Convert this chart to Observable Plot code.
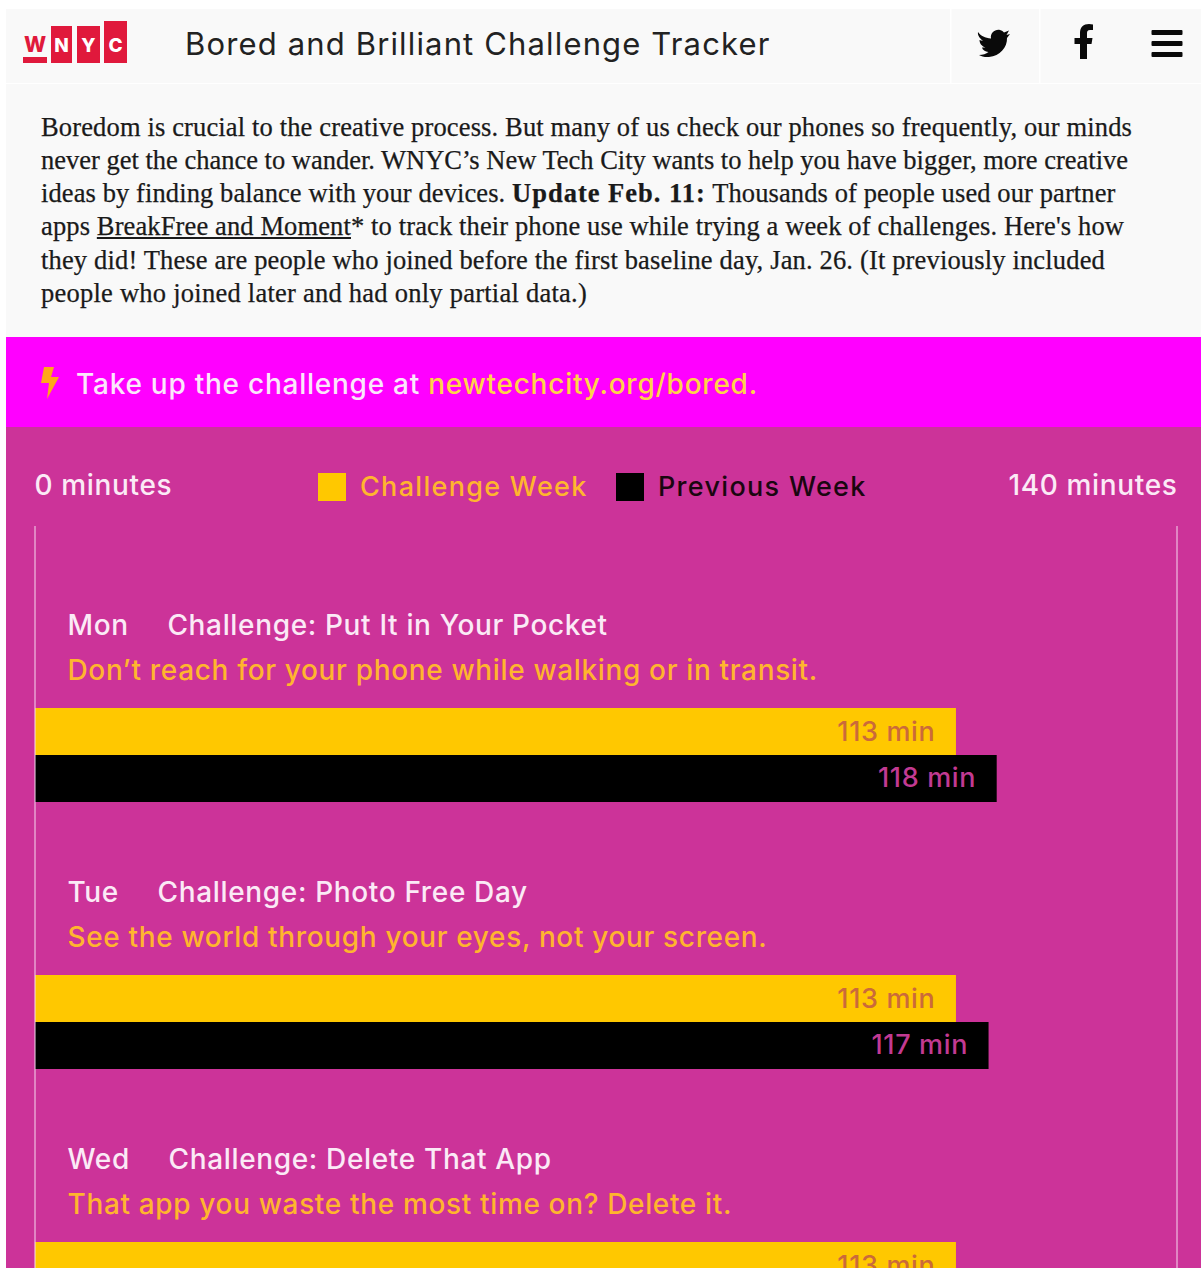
<!DOCTYPE html>
<html><head><meta charset="utf-8">
<script src="https://cdn.jsdelivr.net/npm/d3@7"></script>
<script src="https://cdn.jsdelivr.net/npm/@observablehq/plot@0.6"></script>
<style>
html,body{margin:0;padding:0;background:#fff;overflow:hidden;width:1201px;height:1268px}
#page{position:relative;width:1201px;height:1268px;overflow:hidden;font-family:Inter,sans-serif}
.abs{position:absolute;white-space:nowrap}
#header{left:6px;top:9px;width:1195px;height:74px;background:#f9f9f9}
#intro{left:6px;top:84px;width:1195px;height:253px;background:#f9f9f9}
#intro div{position:absolute;left:35px;white-space:nowrap;font-family:"Liberation Serif",serif;font-size:26.5px;color:#1a1a1a;line-height:33px;-webkit-text-stroke:.25px #1a1a1a}
#chart{position:absolute;left:6px;top:427px;width:1195px;height:841px;background:#cc3399}
#banner{left:6px;top:337px;width:1195px;height:90px;background:#ff00ff}
.leg{font-size:27px;font-weight:500;letter-spacing:1.3px}
</style></head><body>
<div id="page">
  <div class="abs" id="header"></div>
  <div class="abs" id="intro"></div>
  <div class="abs" id="banner"></div>
  <div id="chart"></div>

  <svg class="abs" style="left:0;top:0" width="1201" height="90" viewBox="0 0 1201 90">
    <rect x="950" y="9" width="1.5" height="74" fill="#fff"/>
    <rect x="1039" y="9" width="1.5" height="74" fill="#fff"/>
    <rect x="23" y="57" width="24" height="6" fill="#e0193c"/>
    <text x="35" y="52" text-anchor="middle" font-family="Inter" font-weight="800" font-size="21" fill="#e0193c">W</text>
    <rect x="51" y="26" width="21" height="37" fill="#e0193c"/>
    <text x="61.5" y="52" text-anchor="middle" font-family="Inter" font-weight="800" font-size="19" fill="#fff">N</text>
    <rect x="77" y="26" width="23" height="37" fill="#e0193c"/>
    <text x="88.5" y="52" text-anchor="middle" font-family="Inter" font-weight="800" font-size="19" fill="#fff">Y</text>
    <rect x="104" y="21" width="23" height="42" fill="#e0193c"/>
    <text x="115.5" y="52" text-anchor="middle" font-family="Inter" font-weight="800" font-size="19" fill="#fff">C</text>
    <path d="M978 32 C981 36 985 38 991 38.500 C990 33 995 29 1000 30 C1002 30.500 1003 31.500 1004 32.500 L1009 30.500 L1006.500 35 L1010 34 L1007 38 C1007.500 47 1000 56 989 57 C985 57.300 981 56.300 979 55 C983 55 986 54 988.500 52 C985 51.500 982.500 50 982 47.500 L985.500 47.500 C982 46.500 979.500 43.500 979.500 40 L983 41 C979 37.500 977.500 35 978 32 Z" fill="#0a0a0a"/>
    <path d="M1080 59 L1080 44 L1074.500 44 L1074.500 38 L1080 38 L1080 33 C1080 27 1083.500 24 1089 24 L1093 24.500 L1093 30 L1090 30 C1087.500 30 1087 31.300 1087 33.500 L1087 38 L1092.500 38 L1091.500 44 L1087 44 L1087 59 Z" fill="#0a0a0a"/>
    <rect x="1151.500" y="30" width="31" height="5" rx="1" fill="#0a0a0a"/>
    <rect x="1151.500" y="41" width="31" height="5" rx="1" fill="#0a0a0a"/>
    <rect x="1151.500" y="52" width="31" height="5" rx="1" fill="#0a0a0a"/>
  </svg>
  <div class="abs" style="left:185px;top:25px;font-size:31px;line-height:37px;color:#222;letter-spacing:1.15px">Bored and Brilliant Challenge Tracker</div>

  <svg class="abs" style="left:38px;top:365px" width="24" height="36" viewBox="0 0 24 36">
    <path d="M6 2 L16 2 L13 12 L21 12 L9 34 L11 18 L3 18 Z" fill="#ffa61a"/>
  </svg>
  <div class="abs" style="left:76px;top:366px;font-size:28px;font-weight:500;line-height:36px;color:#fbe6fb;letter-spacing:.75px">Take up the challenge at <span style="color:#ffd24a">newtechcity.org/bored.</span></div>

  <div class="abs" style="left:318px;top:473px;width:28px;height:28px;background:#ffc800"></div>
  <div class="abs leg" style="left:360px;top:470px;line-height:34px;color:#ffb52e">Challenge Week</div>
  <div class="abs" style="left:616px;top:473px;width:28px;height:28px;background:#000"></div>
  <div class="abs leg" style="left:658px;top:470px;line-height:34px;color:#1a0610">Previous Week</div>
</div>
<script>
const days = ["Mon", "Tue", "Wed"];
const challengeNames = ["Put It in Your Pocket", "Photo Free Day", "Delete That App"];
const challengeNotes = [
  "Don\u2019t reach for your phone while walking or in transit.",
  "See the world through your eyes, not your screen.",
  "That app you waste the most time on? Delete it."
];
const challengeWeek = [113, 113, 113];
const previousWeek = [118, 117];
const introLines = [
  "Boredom is crucial to the creative process. But many of us check our phones so frequently, our minds",
  "never get the chance to wander. WNYC\u2019s New Tech City wants to help you have bigger, more creative",
  "ideas by finding balance with your devices. <b style=\"letter-spacing:1px\">Update Feb. 11:</b> Thousands of people used our partner",
  "apps <u>BreakFree and Moment</u>* to track their phone use while trying a week of challenges. Here's how",
  "they did! These are people who joined before the first baseline day, Jan. 26. (It previously included",
  "people who joined later and had only partial data.)"
];
const introWidths = [1091, 1087, 1076, 1083, 1064, 546];

const intro = document.getElementById("intro");
introLines.forEach((html, i) => {
  const d = document.createElement("div");
  d.innerHTML = html;
  d.style.top = (26.5 + i * 33.3) + "px";
  intro.appendChild(d);
  const extra = (introWidths[i] - d.getBoundingClientRect().width) / d.textContent.length;
  d.style.letterSpacing = extra.toFixed(3) + "px";
});

const rowKeys = ["gap", "title", "note", "Challenge", "Previous", "end"];
const yDomain = days.flatMap(d => rowKeys.map(r => d + " " + r));
const challengeRows = days.map((d, i) => ({row: d + " Challenge", value: challengeWeek[i]}));
const previousRows = previousWeek.map((v, i) => ({row: days[i] + " Previous", value: v}));
const titleRows = days.map((d, i) => ({row: d + " title", text: d + "\u2003\u2004Challenge: " + challengeNames[i]}));
const noteRows = days.map((d, i) => ({row: d + " note", text: challengeNotes[i]}));

const chart = Plot.plot({
  width: 1195,
  height: 841,
  marginTop: 99,
  marginBottom: 0,
  marginLeft: 0,
  marginRight: 0,
  style: {background: "transparent", fontFamily: "Inter, sans-serif", fontWeight: 500, letterSpacing: "0.65px", overflow: "hidden"},
  x: {domain: [0, 140], range: [29, 1170], axis: null},
  y: {type: "band", domain: yDomain, range: [150, 150 + 44.5 * yDomain.length], padding: 0, round: false, axis: null},
  marks: [
    Plot.barX(challengeRows, {x: "value", y: "row", fill: "#ffc800", insetTop: -2.5}),
    Plot.barX(previousRows, {x: "value", y: "row", fill: "#000", insetBottom: -2.5}),
    Plot.ruleX([0], {stroke: "#f5d9ee", strokeWidth: 1, dx: -0.5}),
    Plot.ruleX([140], {stroke: "#f5d9ee", strokeWidth: 1, dx: 0.5}),
    Plot.text([0], {x: d => d, text: d => d + " minutes", frameAnchor: "top", dy: -51, dx: -1, textAnchor: "start", fill: "#fbeaf6", fontSize: 28}),
    Plot.text([140], {x: d => d, text: d => d + " minutes", frameAnchor: "top", dy: -51, dx: 1, textAnchor: "end", fill: "#fbeaf6", fontSize: 28}),
    Plot.text(titleRows, {x: () => 0, y: "row", text: "text", dx: 32, dy: -18, textAnchor: "start", fill: "#fbeaf6", fontSize: 28}),
    Plot.text(noteRows, {x: () => 0, y: "row", text: "text", dx: 32, dy: -18, textAnchor: "start", fill: "#ffb52e", fontSize: 28}),
    Plot.text(challengeRows, {x: "value", y: "row", text: d => d.value + " min", dx: -21, dy: -1, textAnchor: "end", fill: "#cb6a3a", fontSize: 27}),
    Plot.text(previousRows, {x: "value", y: "row", text: d => d.value + " min", dx: -21, dy: 1, textAnchor: "end", fill: "#c23a92", fontSize: 27})
  ]
});
document.getElementById("chart").appendChild(chart);
</script>
</body></html>
